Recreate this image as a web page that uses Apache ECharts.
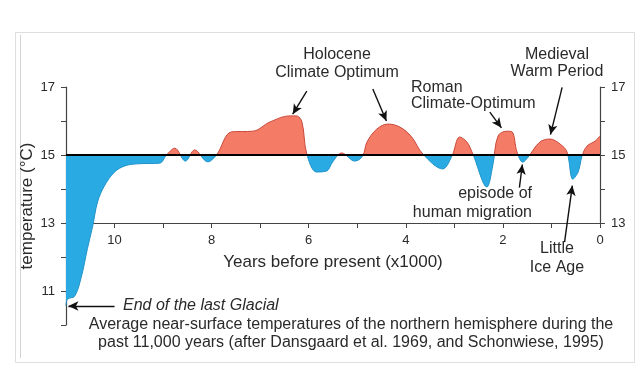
<!DOCTYPE html>
<html>
<head>
<meta charset="utf-8">
<script src="https://cdn.jsdelivr.net/npm/echarts@6/dist/echarts.min.js"></script>
<style>
html,body{margin:0;padding:0;background:#ffffff;}
#chart{width:640px;height:365px;}
</style>
</head>
<body>
<div id="chart"></div>
<script>
// Years before present (x1000)
var years = [11.0, 10.97, 10.82, 10.68, 10.56, 10.45, 10.35, 10.21, 10.0, 9.79, 9.53, 9.07, 8.93, 8.76, 8.54, 8.35, 8.08, 7.9, 7.59, 7.15, 6.80, 6.39, 6.25, 6.14, 6.04, 5.84, 5.63, 5.51, 5.32, 5.05, 4.89, 4.80, 4.60, 4.37, 4.12, 3.88, 3.65, 3.24, 3.05, 2.89, 2.74, 2.62, 2.33, 2.21, 2.10, 1.92, 1.81, 1.71, 1.59, 1.48, 1.24, 1.03, 0.82, 0.68, 0.56, 0.45, 0.37, 0.27, 0.10, 0.0];
// Temperature (°C)
var temps = [10.56, 10.76, 10.85, 11.44, 12.24, 12.91, 13.62, 14.09, 14.5, 14.68, 14.74, 14.76, 15.0, 15.2, 14.82, 15.15, 14.8, 15.0, 15.68, 15.7, 15.97, 16.15, 16.15, 15.97, 15.03, 14.5, 14.53, 14.79, 15.06, 14.82, 14.97, 15.38, 15.76, 15.91, 15.82, 15.53, 15.03, 14.59, 14.97, 15.53, 15.38, 15.03, 14.06, 14.68, 15.56, 15.7, 15.68, 15.09, 14.79, 14.94, 15.38, 15.47, 15.32, 15.09, 14.29, 14.5, 14.97, 15.26, 15.41, 15.56];
var baseline = 15;
var xTickLabels = [10, 8, 6, 4, 2, 0];
var yTickLabelsLeft = [17, 15, 13, 11];
var yTickLabelsRight = [17, 15, 13];

var pts = years.map(function (y, i) { return [y, temps[i]]; });

var FONT = 'Liberation Sans, Arial, sans-serif';
var AX = '#444';
var TXT = '#2a2a2a';

var chart = echarts.init(document.getElementById('chart'), null, {renderer: 'canvas'});

function arrow(a, b) { return [{coord: a}, {coord: b}]; }

var option = {
  backgroundColor: '#ffffff',
  animation: false,
  grid: [
    {left: 66, right: 40, top: 87, height: 238},
    {left: 66, right: 40, top: 87, height: 136}
  ],
  xAxis: [
    {gridIndex: 0, type: 'value', min: 0, max: 11, inverse: true, show: false},
    {gridIndex: 1, type: 'value', min: 0, max: 11, interval: 1, inverse: true, position: 'bottom',
     axisLine: {show: true, onZero: false, lineStyle: {color: AX, width: 1.2}},
     axisTick: {show: true, length: 5, lineStyle: {color: AX}},
     splitLine: {show: false},
     axisLabel: {margin: 11, color: TXT, fontSize: 13, fontFamily: FONT,
       formatter: function (v) { return xTickLabels.indexOf(v) >= 0 ? String(v) : ''; }},
     name: 'Years before present (x1000)', nameLocation: 'middle', nameGap: 31, nameMoveOverlap: false,
     nameTextStyle: {fontSize: 17, color: TXT, fontFamily: FONT}
    }
  ],
  yAxis: [
    {gridIndex: 0, type: 'value', min: 10, max: 17, interval: 1, position: 'left',
     axisLine: {show: true, onZero: false, lineStyle: {color: AX, width: 1.2}},
     axisTick: {show: true, length: 5, lineStyle: {color: AX}},
     splitLine: {show: false},
     axisLabel: {margin: 11, color: TXT, fontSize: 13, fontFamily: FONT,
       formatter: function (v) { return yTickLabelsLeft.indexOf(v) >= 0 ? String(v) : ''; }},
     name: 'temperature (°C)', nameLocation: 'middle', nameRotate: 90, nameGap: 30, nameMoveOverlap: false,
     nameTextStyle: {fontSize: 17, color: TXT, fontFamily: FONT}
    },
    {gridIndex: 1, type: 'value', min: 13, max: 17, interval: 1, position: 'right',
     axisLine: {show: true, onZero: false, lineStyle: {color: AX, width: 1.2}},
     axisTick: {show: true, length: 5, lineStyle: {color: AX}},
     splitLine: {show: false},
     axisLabel: {margin: 11, color: TXT, fontSize: 13, fontFamily: FONT,
       formatter: function (v) { return yTickLabelsRight.indexOf(v) >= 0 ? String(v) : ''; }}
    }
  ],
  visualMap: [
    {type: 'piecewise', show: false, dimension: 1, seriesIndex: 0,
     pieces: [{gte: 5, lt: baseline, color: '#2aaae2'}, {gte: baseline, lte: 25, color: '#f47c66'}]},
    {type: 'piecewise', show: false, dimension: 1, seriesIndex: 1,
     pieces: [{gte: 5, lt: baseline, color: '#1f92c8'}, {gte: baseline, lte: 25, color: '#c9483a'}]}
  ],
  series: [
    {type: 'line', xAxisIndex: 0, yAxisIndex: 0, data: pts, smooth: 0.35, symbol: 'none',
     lineStyle: {width: 0}, areaStyle: {origin: baseline, opacity: 1}, z: 2},
    {type: 'line', xAxisIndex: 0, yAxisIndex: 0, data: pts, smooth: 0.35, symbol: 'none',
     lineStyle: {width: 1}, z: 3,
     markLine: {
       silent: true, symbol: ['none', 'none'], label: {show: false},
       lineStyle: {color: '#000', width: 2, type: 'solid'},
       data: [{yAxis: baseline}]
     }
    },
    {type: 'line', xAxisIndex: 0, yAxisIndex: 0, data: [[0, baseline]], symbol: 'none', lineStyle: {width: 0}, z: 5,
     markLine: {
       silent: true, symbol: ['none', 'arrow'], symbolSize: [7, 10], label: {show: false},
       lineStyle: {color: '#111', width: 1.4, type: 'solid'},
       data: [
         arrow([6.04, 16.88], [6.33, 16.2]),
         arrow([4.68, 16.94], [4.40, 16.0]),
         arrow([2.27, 16.26], [2.03, 15.8]),
         arrow([0.78, 16.99], [1.02, 15.6]),
         arrow([1.66, 14.04], [1.60, 14.72]),
         arrow([0.73, 12.44], [0.57, 14.1]),
         arrow([10.0, 10.56], [10.95, 10.56])
       ]
     }
    }
  ],
  graphic: [
    {type: 'rect', shape: {x: 15.5, y: 32.5, width: 619, height: 330}, style: {fill: 'none', stroke: '#dedede', lineWidth: 1}, silent: true},
    {type: 'line', shape: {x1: 20.5, y1: 35, x2: 20.5, y2: 358}, style: {stroke: '#d4d4d4', lineWidth: 1}, silent: true},
    {type: 'text', style: {text: 'Holocene\nClimate Optimum', x: 337, y: 46, align: 'center', verticalAlign: 'top', font: '16px ' + FONT, fill: TXT, lineHeight: 18}},
    {type: 'text', style: {text: 'Roman\nClimate-Optimum', x: 411, y: 80, align: 'left', verticalAlign: 'top', font: '16px ' + FONT, fill: TXT, lineHeight: 16}},
    {type: 'text', style: {text: 'Medieval\nWarm Period', x: 557, y: 46, align: 'center', verticalAlign: 'top', font: '16px ' + FONT, fill: TXT, lineHeight: 17}},
    {type: 'text', style: {text: 'episode of\nhuman migration', x: 532, y: 184, align: 'right', verticalAlign: 'top', font: '16px ' + FONT, fill: TXT, lineHeight: 19}},
    {type: 'text', style: {text: 'Little\nIce Age', x: 557, y: 239, align: 'center', verticalAlign: 'top', font: '16px ' + FONT, fill: TXT, lineHeight: 19}},
    {type: 'text', style: {text: 'End of the last Glacial', x: 123, y: 298, align: 'left', verticalAlign: 'top', font: 'italic 16px ' + FONT, fill: TXT}},
    {type: 'text', style: {text: 'Average near-surface temperatures of the northern hemisphere during the\npast 11,000 years (after Dansgaard et al. 1969, and Schonwiese, 1995)', x: 351, y: 316, align: 'center', verticalAlign: 'top', font: '16px ' + FONT, fill: TXT, lineHeight: 18}}
  ]
};
chart.setOption(option);
</script>
</body>
</html>
